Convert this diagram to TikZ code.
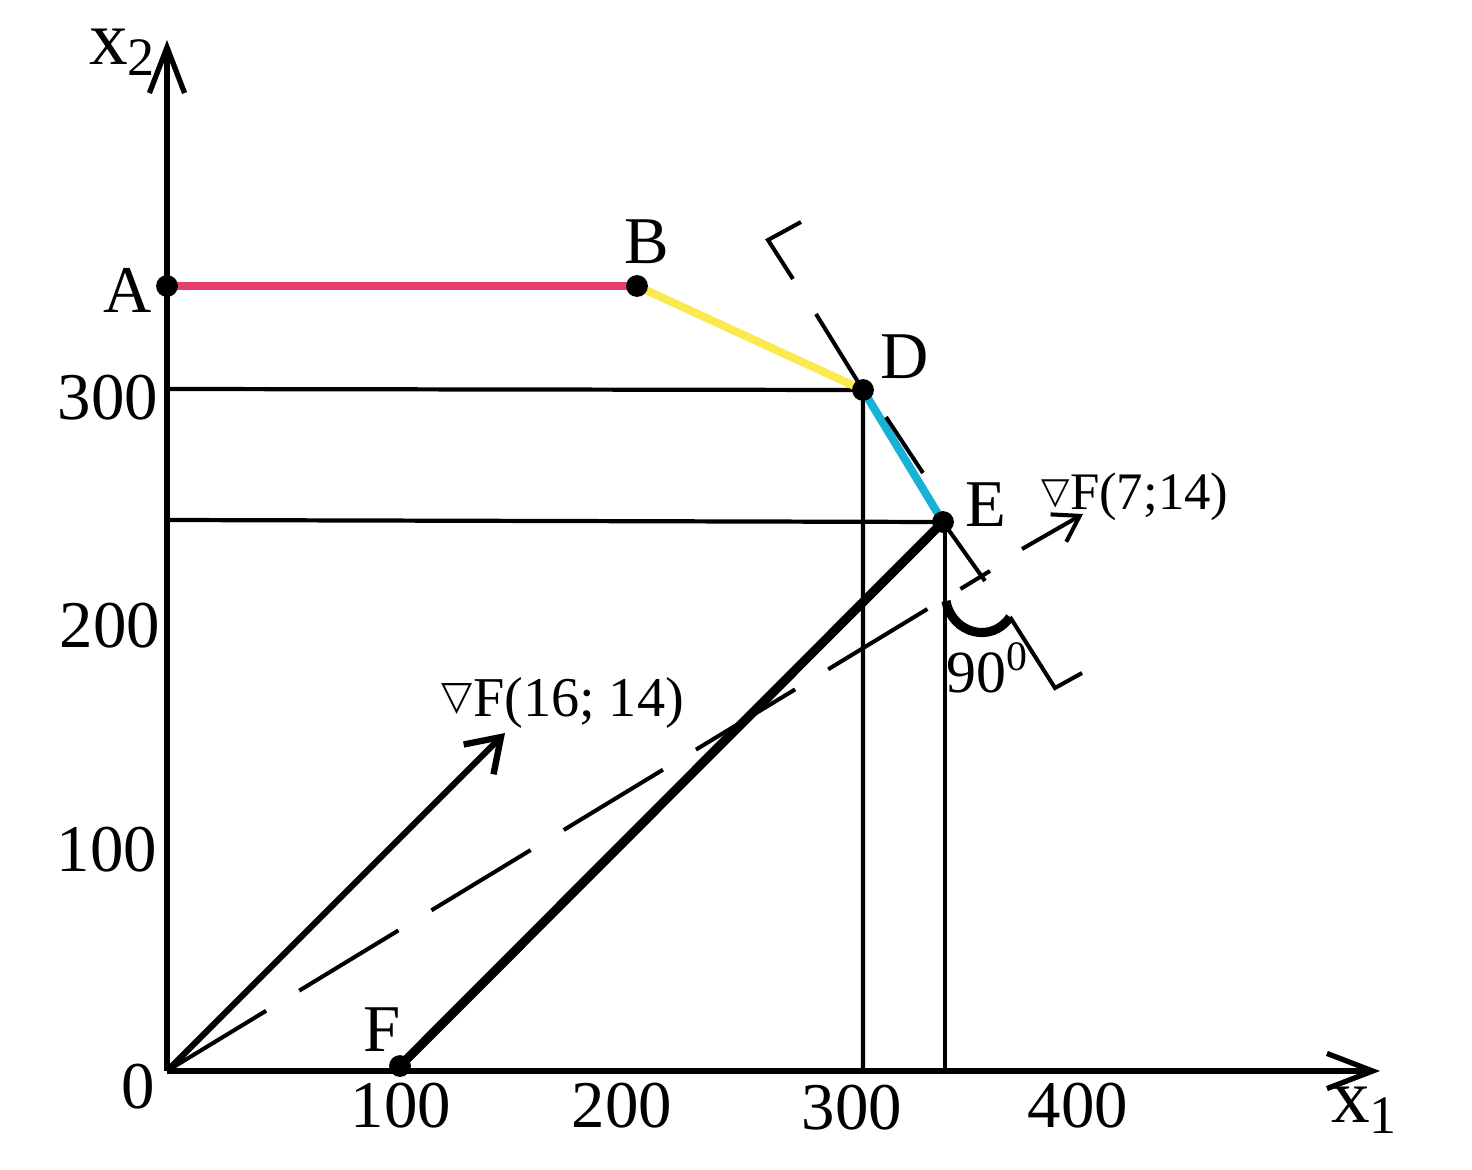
\documentclass[tikz,border=0pt]{standalone}
\usepackage{fontspec}
\setmainfont{Liberation Serif}
\newfontfamily\dejavu{DejaVu Sans}
\usetikzlibrary{arrows.meta}
\definecolor{segred}{RGB}{228,64,106}
\definecolor{segyellow}{RGB}{250,234,80}
\definecolor{segcyan}{RGB}{24,178,216}
\newcommand{\nablasym}[2]{\raisebox{#2}{\dejavu\fontsize{#1}{#1}\selectfont ▽}}
\begin{document}
\begin{tikzpicture}[x=0.01cm,y=-0.01cm,
  axis/.style={line width=1.5pt,-{Straight Barb[length=13pt,width=10pt]}},
  guide/.style={line width=1.2pt},
  thin/.style={line width=1.15pt},
  gdash/.style={line width=1.15pt,dash pattern=on 33pt off 11pt},
  seg/.style={line width=2.3pt},
  dot/.style={circle,fill=black,inner sep=0pt,minimum size=6.2pt},
  lbl/.style={inner sep=0pt,font=\fontsize{19}{22}\selectfont},
  axlbl/.style={inner sep=0pt,font=\fontsize{22}{24}\selectfont},
  glbl/.style={inner sep=0pt,font=\fontsize{16}{18}\selectfont},
  slbl/.style={inner sep=0pt,font=\fontsize{15}{17}\selectfont}
]
\useasboundingbox (0,0) rectangle (1472,1170);
% key points
\coordinate (O) at (167,1071);
\coordinate (A) at (167,286);
\coordinate (B) at (637,286);
\coordinate (D) at (863,390);
\coordinate (E) at (943,522);
\coordinate (F) at (400,1066);
\coordinate (Xend) at (1380,1071);
\coordinate (Yend) at (167,40);
\coordinate (Y300) at (167,389);
\coordinate (YE) at (167,520);
\coordinate (Dfoot) at (863,1071);
\coordinate (Efoot) at (945,1071);
\coordinate (Efoottop) at (945,522);
\coordinate (G1) at (505,733);
\coordinate (Gend) at (990,571);
\coordinate (G2s) at (1022,549);
\coordinate (G2e) at (1083,514);
\coordinate (P1) at (816,314);
\coordinate (P2) at (886,417);
\coordinate (P3) at (923,473);
\coordinate (P4) at (985,581);
\coordinate (U1) at (793,279);
\coordinate (U2) at (768,240);
\coordinate (U3) at (801,222);
\coordinate (L1) at (1010,617);
\coordinate (L2) at (1055,688);
\coordinate (L3) at (1082,673);
\coordinate (R0) at (946,601);

% guide lines
\draw[guide] (Y300) -- (D) -- (Dfoot);
\draw[guide] (YE) -- (E);
\draw[guide] (Efoottop) -- (Efoot);

% axes
\draw[axis] (O) -- (Xend);
\draw[axis] (O) -- (Yend);

% feasible boundary
\draw[seg,segred] (A) -- (B);
\draw[seg,segyellow] (B) -- (D);
\draw[seg,segcyan] (D) -- (E);

% gradient dashed line and arrow
\draw[gdash] (O) -- (Gend);
\draw[thin,-{Straight Barb[length=7pt,width=9pt]}] (G2s) -- (G2e);

% level line (perpendicular) pieces
\draw[thin] (P1) -- (D);
\draw[thin] (P2) -- (P3);
\draw[thin] (E) -- (P4);
\draw[thin] (U1) -- (U2) -- (U3);
\draw[thin] (L1) -- (L2) -- (L3);
\draw[line width=2.6pt] (R0) .. controls (952,634) and (992,644) .. (L1);

% thick lines
\draw[line width=2.6pt] (F) -- (E);
\draw[line width=1.8pt,-{Straight Barb[length=9pt,width=12pt]}] (O) -- (G1);

% dots
\node[dot] (dA) at (A) {};
\node[dot] (dB) at (B) {};
\node[dot] (dD) at (D) {};
\node[dot] (dE) at (E) {};
\node[dot] (dF) at (F) {};

% labels
\node[lbl] (lA) at (128,290) {A};
\node[lbl] (lB) at (647,242) {B};
\node[lbl] (lD) at (905,357) {D};
\node[lbl] (lE) at (986,505) {E};
\node[lbl] (lF) at (382,1030) {F};
\node[lbl] (l0) at (138,1087) {0};
\node[lbl] (ly300) at (108,398) {300};
\node[lbl] (ly200) at (110,626) {200};
\node[lbl] (ly100) at (107,850) {100};
\node[lbl] (lx100) at (401,1106) {100};
\node[lbl] (lx200) at (622,1106) {200};
\node[lbl] (lx300) at (852,1108) {300};
\node[lbl] (lx400) at (1078,1106) {400};
\node[axlbl] (lx2) at (123,52) {x\textsubscript{2}};
\node[axlbl] (lx1) at (1365,1110) {x\textsubscript{1}};
\node[glbl] (lg1) at (563,703) {\nablasym{11.5}{2pt}F(16; 14)};
\node[slbl] (lg2) at (1135,497) {\nablasym{10.5}{1.8pt}F(7;14)};
\node[lbl,font=\fontsize{17}{19}\selectfont] (l90) at (988,668) {90\textsuperscript{0}};
\end{tikzpicture}
\end{document}
